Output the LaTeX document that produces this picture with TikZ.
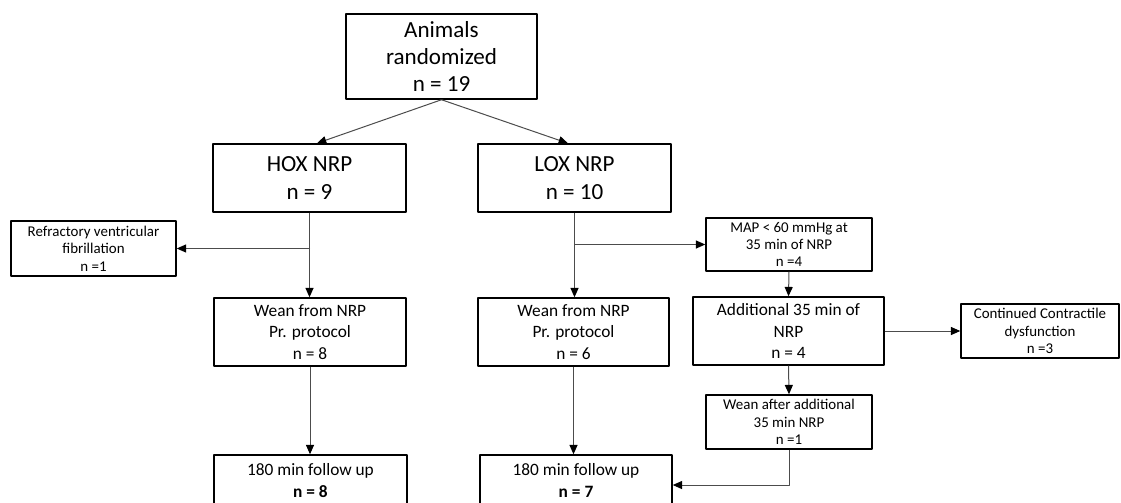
\documentclass[tikz,border=0pt]{standalone}
\usepackage{fontspec}
\setmainfont{Carlito}
\usetikzlibrary{arrows.meta}

\begin{document}
\begin{tikzpicture}[x=0.75pt, y=-0.75pt, line join=round,
  box/.style={draw=black, line width=1.1pt, align=center, inner sep=0pt, fill=white},
  bigbox/.style={box, font=\fontsize{17.3}{20.6}\selectfont},
  midbox/.style={box, font=\fontsize{13}{16.2}\selectfont},
  smallbox/.style={box, font=\fontsize{11.2}{13}\selectfont},
  link/.style={draw=black!70, line width=0.75pt, -{Triangle[length=7pt,width=6pt,color=black]}}]
\useasboundingbox (0,0) rectangle (1121,503);
\node[bigbox, minimum width=143.25pt, minimum height=63.75pt] (rand) at (441.5,56.5) {Animals\\randomized\\n = 19};
\node[bigbox, minimum width=144.75pt, minimum height=51pt] (hox) at (309.5,178) {HOX NRP\\n = 9};
\node[bigbox, minimum width=144.75pt, minimum height=51pt] (lox) at (574.5,178) {LOX NRP\\n = 10};
\node[smallbox, minimum width=123.75pt, minimum height=41.25pt] (refr) at (93.5,248.5) {Refractory ventricular\\fibrillation\\n =1};
\node[smallbox, minimum width=124.5pt, minimum height=39.75pt] (map) at (789,244.5) {MAP < 60 mmHg at\\35 min of NRP\\n =4};
\node[midbox, minimum width=144pt, minimum height=51pt] (weanh) at (310,332) {Wean from NRP\\Pr. protocol\\n = 8};
\node[midbox, minimum width=143.25pt, minimum height=51pt] (weanl) at (573.5,332) {Wean from NRP\\Pr. protocol\\n = 6};
\node[midbox, minimum width=143.25pt, minimum height=51pt] (add) at (788.5,331) {Additional 35 min of\\NRP\\n = 4};
\node[smallbox, minimum width=118.5pt, minimum height=40.5pt] (cont) at (1040,331) {Continued Contractile\\dysfunction\\n =3};
\node[smallbox, minimum width=124.5pt, minimum height=40.5pt] (weanadd) at (789,422) {Wean after additional\\35 min NRP\\n =1};
\node[midbox, minimum width=144.75pt, minimum height=38.25pt] (fuh) at (310.5,480.5) {180 min follow up\\\textbf{n = 8}};
\node[midbox, minimum width=144pt, minimum height=38.25pt] (ful) at (576,480.5) {180 min follow up\\\textbf{n = 7}};
\coordinate (hoxsplit) at (310,248.5);
\coordinate (loxsplit) at (574,244.5);
\draw[link] (rand.south) -- ([xshift=5.6pt]hox.north);
\draw[link] (rand.south) -- ([xshift=-4.9pt]lox.north);
\draw[link] (hox.south) -- (hox.south |- weanh.north);
\draw[link] (hoxsplit) -- (refr.east);
\draw[link] (weanh.south) -- (weanh.south |- fuh.north);
\draw[link] (lox.south) -- (lox.south |- weanl.north);
\draw[link] (loxsplit) -- (map.west);
\draw[link] (weanl.south) -- (weanl.south |- ful.north);
\draw[link] (map.south) -- (add.north);
\draw[link] (add.east) -- (cont.west);
\draw[link] (add.south) -- (weanadd.north);
\draw[link] (weanadd.south) |- ([yshift=-3.4pt]ful.east);
\end{tikzpicture}
\end{document}
